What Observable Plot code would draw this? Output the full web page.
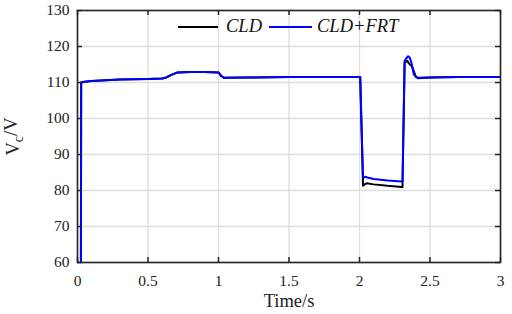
<!DOCTYPE html>
<html>
<head>
<meta charset="utf-8">
<script src="https://cdn.jsdelivr.net/npm/d3@7"></script>
<script src="https://cdn.jsdelivr.net/npm/@observablehq/plot@0.6"></script>
<style>
  html, body { margin: 0; padding: 0; background: #fff; }
  #wrap { position: relative; width: 512px; height: 314px; }
  #wrap svg, #wrap svg text { font-family: 'Liberation Serif', serif !important; }
  #legend { position: absolute; left: 178px; top: 16px; display: flex; align-items: center;
    font-family: 'Liberation Serif', serif; font-style: italic; font-size: 18.5px; color: #111; white-space: nowrap; }
  #legend .sw { display: inline-block; height: 0; border-top: 2px solid; }
</style>
</head>
<body>
<div id="wrap"><div id="legend"></div></div>
<script>
// Time axis (s) and series values (V)
const time = [0.024, 0.026, 0.05, 0.1, 0.2, 0.3, 0.4, 0.5, 0.6, 0.63, 0.67, 0.71, 0.8, 0.9, 1.0, 1.02, 1.04, 1.2, 1.5, 1.8, 2.005,
  2.025, 2.04, 2.05, 2.1, 2.2, 2.3, 2.305, 2.32, 2.34, 2.345, 2.355, 2.36, 2.37, 2.385, 2.40, 2.415, 2.5, 2.7, 3.0];
const cld = [55, 110.0, 110.2, 110.4, 110.6, 110.8, 110.9, 111.0, 111.1, 111.4, 112.2, 112.8, 112.9, 112.9, 112.8, 111.8, 111.3, 111.4, 111.5, 111.5, 111.5,
  81.3, 81.8, 82.0, 81.7, 81.3, 81.0, 81.0, 115.5, 116.0, 115.6, 115.1, 114.9, 114.6, 113.2, 111.6, 111.2, 111.4, 111.5, 111.5];
const cldFrt = [55, 110.0, 110.2, 110.4, 110.6, 110.8, 110.9, 111.0, 111.1, 111.4, 112.2, 112.8, 112.9, 112.9, 112.8, 111.8, 111.3, 111.4, 111.5, 111.5, 111.5,
  83.5, 83.8, 83.7, 83.2, 82.8, 82.5, 82.5, 116.0, 117.1, 117.3, 117.0, 116.5, 115.2, 112.3, 111.5, 111.3, 111.4, 111.5, 111.5];
const seriesNames = ["CLD", "CLD+FRT"];
const seriesColors = ["#000000", "#0000ff"];
const xTicks = [0, 0.5, 1, 1.5, 2, 2.5, 3];
const yTicks = [60, 70, 80, 90, 100, 110, 120, 130];

const rows = [];
time.forEach((t, i) => {
  rows.push({t, v: cld[i], s: seriesNames[0]});
  rows.push({t, v: cldFrt[i], s: seriesNames[1]});
});

const W = 512, H = 314, mL = 77, mR = 12, mT = 10, mB = 52;
const pw = W - mL - mR, ph = H - mT - mB;
const tk = 5;

const chart = Plot.plot({
  width: W, height: H,
  marginLeft: mL, marginRight: mR, marginTop: mT, marginBottom: mB,
  style: "font-family: 'Liberation Serif', serif; font-size: 15.5px; color: #222; background: #fff; overflow: visible;",
  x: {domain: [0, 3]},
  y: {domain: [60, 130]},
  marks: [
    Plot.gridX(xTicks, {stroke: "#dedede", strokeOpacity: 1, strokeWidth: 1.3}),
    Plot.gridY(yTicks, {stroke: "#dedede", strokeOpacity: 1, strokeWidth: 1.3}),
    Plot.axisX(xTicks, {tickSize: 0, tickPadding: 12, tickFormat: d => String(d), label: "Time/s", labelAnchor: "center", labelArrow: "none", labelOffset: 44}),
    Plot.axisY(yTicks, {tickSize: 0, tickPadding: 8, tickFormat: d => String(d), label: "Vc/V", labelAnchor: "center", labelArrow: "none", labelOffset: 72}),
    Plot.line(rows.filter(d => d.s === seriesNames[0]), {x: "t", y: "v", stroke: seriesColors[0], strokeWidth: 2, clip: true}),
    Plot.line(rows.filter(d => d.s === seriesNames[1]), {x: "t", y: "v", stroke: seriesColors[1], strokeWidth: 2, clip: true}),
    Plot.tickX(xTicks, {x: d => d, insetTop: ph - tk, stroke: "#222", strokeWidth: 1.5}),
    Plot.tickX(xTicks, {x: d => d, insetBottom: ph - tk, stroke: "#222", strokeWidth: 1.5}),
    Plot.tickY(yTicks, {y: d => d, insetRight: pw - tk, stroke: "#222", strokeWidth: 1.5}),
    Plot.tickY(yTicks, {y: d => d, insetLeft: pw - tk, stroke: "#222", strokeWidth: 1.5}),
    Plot.frame({stroke: "#262626", strokeWidth: 1.6})
  ]
});
document.getElementById("wrap").prepend(chart);

// axis label styling
chart.querySelectorAll('g[aria-label="x-axis label"] text, g[aria-label="y-axis label"] text').forEach(t => {
  t.setAttribute("font-size", "18.5px");
  t.style.fontSize = "18.5px";
});
const yl = chart.querySelector('g[aria-label="y-axis label"] text');
if (yl) {
  yl.textContent = "";
  const ns = "http://www.w3.org/2000/svg";
  const a = document.createElementNS(ns, "tspan"); a.textContent = "V";
  const b = document.createElementNS(ns, "tspan"); b.textContent = "c"; b.setAttribute("dy", "0.3em"); b.setAttribute("font-size", "14px");
  const c = document.createElementNS(ns, "tspan"); c.textContent = "/V"; c.setAttribute("dy", "-0.3em");
  yl.append(a, b, c);
}

// legend
const lg = document.getElementById("legend");
const widths = [40, 43];
const gaps = [[0, 8], [7, 5]];
seriesNames.forEach((n, i) => {
  const sw = document.createElement("span");
  sw.className = "sw";
  sw.style.width = widths[i] + "px";
  sw.style.borderTopColor = seriesColors[i];
  sw.style.marginLeft = gaps[i][0] + "px";
  sw.style.marginRight = gaps[i][1] + "px";
  const tx = document.createElement("span");
  tx.textContent = n;
  lg.append(sw, tx);
});
</script>
</body>
</html>
